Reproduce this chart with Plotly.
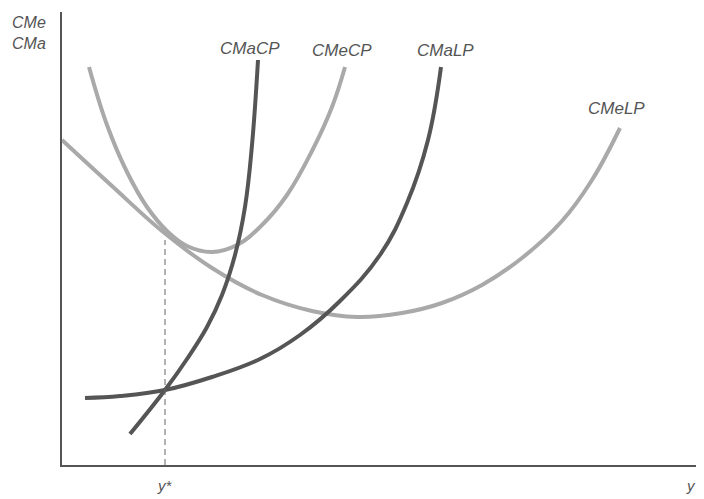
import plotly.graph_objects as go

# Curve points (x: output, y: cost, arbitrary units)
cmecp_x = [27, 45, 65, 85, 105, 125, 150, 175, 200, 225, 250, 270, 283]
cmecp_y = [398, 340, 293, 258, 234, 219, 213, 220, 240, 270, 314, 358, 398]

cmelp_x = [0, 50, 100, 150, 200, 250, 295, 340, 380, 420, 460, 500, 530, 558]
cmelp_y = [325, 279, 234, 197, 170, 154, 148, 152, 162, 180, 207, 244, 285, 337]

cmacp_x = [68, 103, 125, 145, 160, 173, 183, 190, 196]
cmacp_y = [31, 75, 106, 138, 170, 210, 258, 320, 405]

cmalp_x = [23, 58, 103, 150, 198, 238, 278, 318, 345, 366, 379]
cmalp_y = [67, 69, 75, 88, 106, 130, 164, 210, 262, 325, 398]

ystar = 103
labels = ["CMaCP", "CMeCP", "CMaLP", "CMeLP"]
label_x = [188, 280, 383, 554]
label_y = [417, 415, 415, 357]

LIGHT = "#a9a9a9"
DARK = "#555555"
FAM = "Liberation Sans, Arial, sans-serif"

fig = go.Figure()
for xs, ys, col in [(cmelp_x, cmelp_y, LIGHT), (cmecp_x, cmecp_y, LIGHT),
                    (cmalp_x, cmalp_y, DARK), (cmacp_x, cmacp_y, DARK)]:
    fig.add_trace(go.Scatter(x=xs, y=ys, mode="lines",
                             line=dict(color=col, width=4, shape="spline", smoothing=1.15),
                             hoverinfo="skip", showlegend=False))

# dashed y* line
fig.add_trace(go.Scatter(x=[ystar, ystar], y=[0, 225], mode="lines",
                         line=dict(color="#666666", width=1, dash="6px,4px"),
                         hoverinfo="skip", showlegend=False))

font = dict(family=FAM, size=17, color="#555555")
for t, lx, ly in zip(labels, label_x, label_y):
    fig.add_annotation(x=lx, y=ly, text="<i>%s</i>" % t, showarrow=False,
                       font=font, xanchor="center", yanchor="middle")

# axis titles
fig.add_annotation(xref="paper", yref="paper", x=-0.022, y=1.0, text="<i>CMe</i><br><i>CMa</i>",
                   showarrow=False, font=dict(family=FAM, size=16, color="#555555"),
                   xanchor="right", yanchor="top", align="left")
fig.add_annotation(x=ystar, y=0, yshift=-20, text="<i>y*</i>", showarrow=False,
                   font=dict(family=FAM, size=15, color="#555555"))
fig.add_annotation(xref="paper", x=0.99, y=0, yshift=-20, text="<i>y</i>", showarrow=False,
                   xanchor="right", font=dict(family=FAM, size=15, color="#555555"))

fig.update_layout(
    width=696, height=491,
    margin=dict(l=54, r=0, t=4, b=34),
    paper_bgcolor="white", plot_bgcolor="white",
    xaxis=dict(range=[0, 642], showgrid=False, zeroline=False, showticklabels=False,
               showline=True, linecolor="#555555", linewidth=2, ticks="", fixedrange=True),
    yaxis=dict(range=[0, 453], showgrid=False, zeroline=False, showticklabels=False,
               showline=True, linecolor="#555555", linewidth=2, ticks="", fixedrange=True),
)

fig.write_html("out.html")
